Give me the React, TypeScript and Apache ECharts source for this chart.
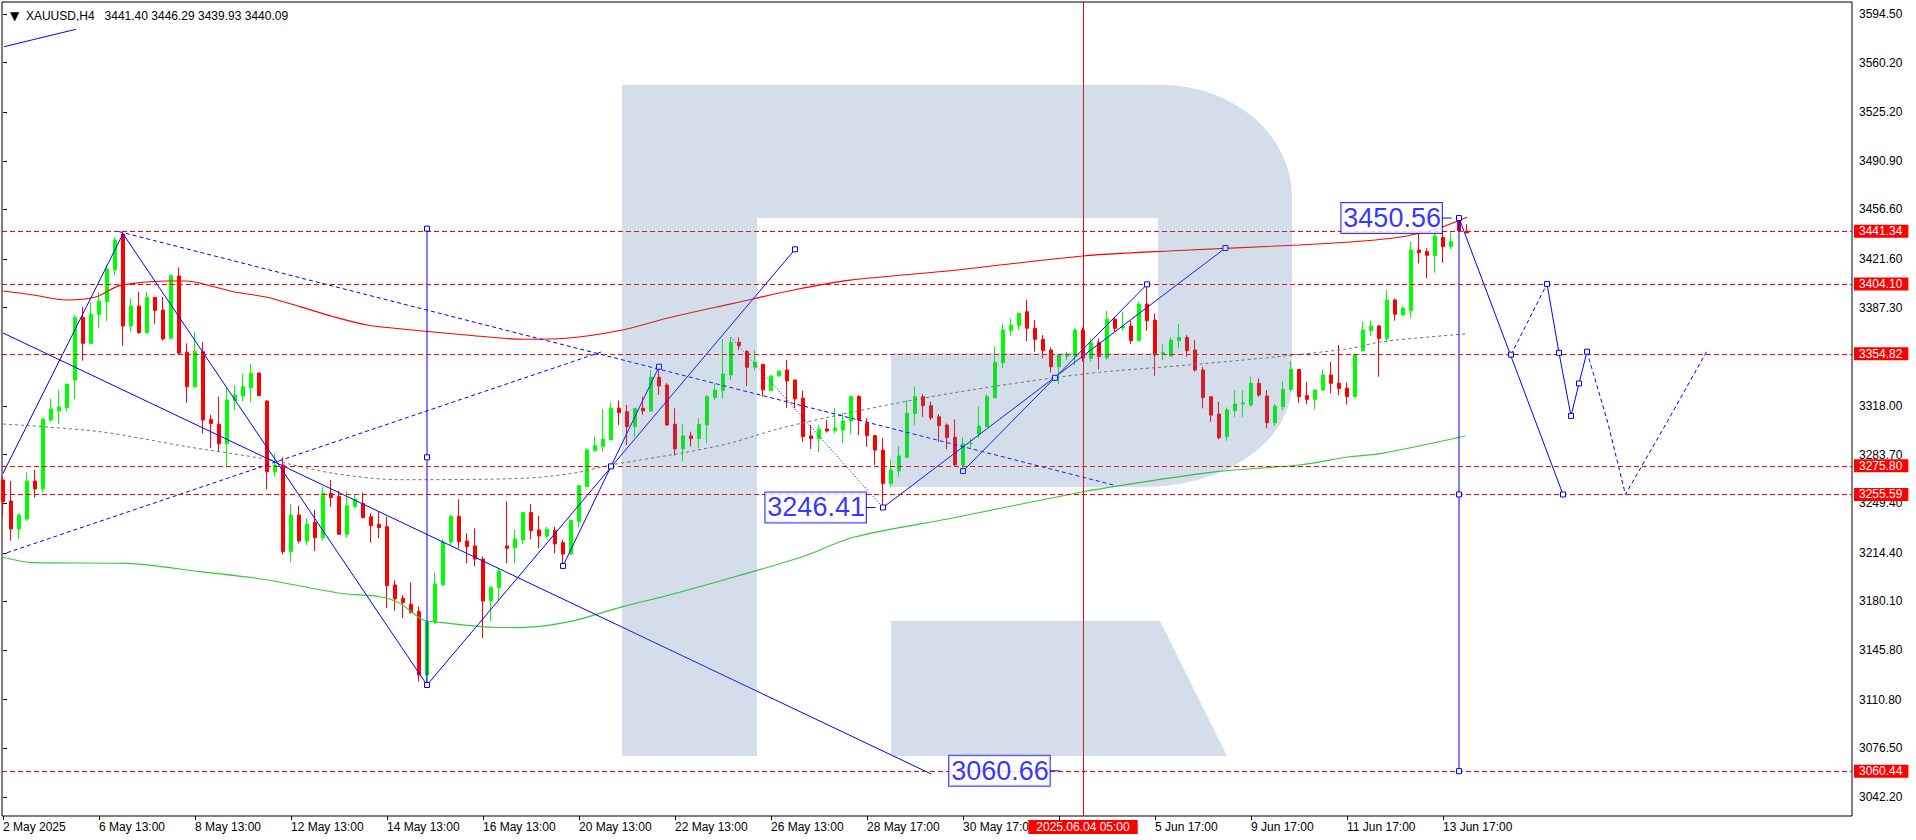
import React, { useEffect, useRef } from "react";
import * as echarts from "echarts";

const symbolName = "XAUUSD,H4";

// x ticks (bar index) and their labels
const xTickIndex = [0, 12, 24, 36, 48, 60, 72, 84, 96, 108, 120, 132, 144, 156, 168, 180];
const xTickText = [
  "2 May 2025", "6 May 13:00", "8 May 13:00", "12 May 13:00", "14 May 13:00", "16 May 13:00",
  "20 May 13:00", "22 May 13:00", "26 May 13:00", "28 May 17:00", "30 May 17:00", "3 Jun 17:00",
  "5 Jun 17:00", "9 Jun 17:00", "11 Jun 17:00", "13 Jun 17:00",
];
const xHiddenLabelIndex = [132];

// y ticks (price)
const yTickValues = [
  3042.2, 3076.5, 3110.8, 3145.8, 3180.1, 3214.4, 3249.4, 3283.7, 3318.0,
  3387.3, 3421.6, 3456.6, 3490.9, 3525.2, 3560.2, 3594.5,
];
const yMin = 3028.8;
const yMax = 3602.96;

// H4 candles: open, high, low, close
const ohlc: number[][] = [
  [3265.8, 3268.0, 3239.9, 3250.5], [3251.0, 3265.1, 3223.0, 3231.3], [3231.3, 3242.3, 3224.2, 3241.1],
  [3238.3, 3271.2, 3237.0, 3265.1], [3265.1, 3272.9, 3253.4, 3259.5], [3259.5, 3309.8, 3256.9, 3308.8],
  [3308.1, 3323.0, 3307.0, 3315.9], [3314.5, 3329.3, 3305.3, 3317.3], [3316.8, 3333.5, 3314.0, 3333.5],
  [3336.3, 3382.2, 3323.0, 3380.3], [3380.3, 3387.6, 3350.0, 3362.2], [3362.2, 3391.1, 3362.0, 3382.7],
  [3382.7, 3398.2, 3372.8, 3392.1], [3391.6, 3417.5, 3378.0, 3414.6], [3414.0, 3437.0, 3410.4, 3435.1],
  [3439.3, 3439.8, 3360.6, 3374.4], [3374.4, 3393.9, 3370.4, 3388.5], [3388.5, 3398.6, 3369.0, 3369.7],
  [3369.7, 3398.6, 3369.0, 3394.7], [3394.7, 3394.7, 3376.0, 3385.3], [3385.7, 3395.0, 3364.1, 3365.3],
  [3365.7, 3410.9, 3365.3, 3409.9], [3409.7, 3415.6, 3355.0, 3355.2], [3355.9, 3362.2, 3320.4, 3331.6],
  [3331.6, 3370.4, 3331.0, 3356.3], [3356.3, 3362.9, 3298.7, 3308.1], [3308.6, 3311.7, 3288.2, 3305.6],
  [3305.1, 3324.6, 3285.8, 3291.4], [3291.4, 3330.5, 3274.8, 3322.2], [3321.8, 3332.4, 3315.2, 3325.8],
  [3325.1, 3340.6, 3321.1, 3331.6], [3330.9, 3347.6, 3320.4, 3341.1], [3341.3, 3341.3, 3325.0, 3325.3],
  [3321.5, 3322.2, 3259.2, 3271.7], [3271.7, 3284.6, 3268.2, 3276.4], [3276.4, 3281.8, 3213.4, 3215.3],
  [3215.3, 3248.7, 3207.5, 3241.1], [3241.1, 3247.7, 3221.1, 3222.8], [3222.8, 3238.8, 3220.0, 3234.8],
  [3235.9, 3244.7, 3215.7, 3225.1], [3225.1, 3261.1, 3223.0, 3256.4], [3256.4, 3265.8, 3247.0, 3253.4],
  [3254.1, 3258.3, 3227.0, 3227.5], [3227.5, 3258.1, 3225.1, 3247.7], [3247.2, 3255.2, 3245.8, 3252.2],
  [3249.3, 3256.9, 3239.0, 3239.2], [3239.9, 3242.3, 3221.6, 3233.6], [3234.5, 3243.5, 3224.7, 3232.2],
  [3232.9, 3239.9, 3175.3, 3191.3], [3191.8, 3195.0, 3173.7, 3181.9], [3182.4, 3184.7, 3168.3, 3179.3],
  [3178.1, 3193.4, 3171.8, 3172.2], [3173.0, 3176.5, 3123.6, 3128.3], [3128.3, 3166.0, 3121.2, 3165.9],
  [3165.4, 3200.5, 3164.3, 3192.5], [3192.0, 3224.0, 3191.0, 3222.0], [3222.0, 3241.5, 3220.0, 3240.0],
  [3240.0, 3252.2, 3217.6, 3222.3], [3222.8, 3228.2, 3207.1, 3218.8], [3219.3, 3231.7, 3205.0, 3210.0],
  [3210.0, 3211.8, 3154.2, 3180.5], [3180.5, 3191.1, 3166.0, 3190.1], [3190.0, 3203.0, 3181.2, 3201.7],
  [3219.3, 3250.6, 3207.1, 3217.6], [3218.0, 3230.6, 3207.0, 3224.2], [3223.5, 3242.8, 3220.5, 3242.8],
  [3242.8, 3248.9, 3224.0, 3230.1], [3230.6, 3240.4, 3217.6, 3226.3], [3226.3, 3232.9, 3224.7, 3231.0],
  [3230.1, 3232.9, 3214.1, 3220.7], [3221.6, 3223.5, 3207.0, 3213.6], [3213.6, 3237.2, 3212.9, 3237.2],
  [3236.5, 3261.8, 3232.2, 3261.8], [3261.1, 3288.2, 3261.1, 3287.0], [3286.5, 3296.4, 3285.8, 3290.0],
  [3289.3, 3315.7, 3285.8, 3294.5], [3294.1, 3320.4, 3294.0, 3316.4], [3316.4, 3321.8, 3304.6, 3313.3],
  [3314.0, 3318.7, 3290.5, 3303.5], [3303.5, 3316.4, 3296.4, 3316.4], [3316.4, 3324.6, 3311.7, 3314.5],
  [3314.5, 3343.4, 3314.5, 3338.3], [3338.3, 3344.6, 3325.8, 3332.1], [3332.8, 3334.0, 3304.0, 3304.6],
  [3305.1, 3316.4, 3283.0, 3287.7], [3287.7, 3305.3, 3279.3, 3296.9], [3296.9, 3299.9, 3289.4, 3295.0],
  [3295.0, 3309.3, 3288.2, 3305.1], [3304.6, 3325.8, 3291.7, 3324.6], [3323.9, 3334.0, 3322.0, 3329.3],
  [3328.9, 3365.3, 3323.0, 3340.6], [3339.9, 3366.5, 3336.4, 3362.9], [3362.9, 3366.5, 3357.5, 3360.6],
  [3356.4, 3357.5, 3332.1, 3345.3], [3345.3, 3357.0, 3343.0, 3348.8], [3347.4, 3347.4, 3324.6, 3329.3],
  [3328.9, 3339.9, 3328.9, 3339.2], [3339.2, 3343.0, 3338.5, 3342.7], [3343.4, 3350.5, 3316.4, 3335.7],
  [3336.4, 3336.4, 3316.4, 3323.0], [3323.5, 3328.9, 3292.9, 3296.4], [3296.9, 3304.6, 3287.7, 3295.0],
  [3295.0, 3304.6, 3285.4, 3301.6], [3301.8, 3308.1, 3299.2, 3300.4], [3300.6, 3316.4, 3298.7, 3302.5],
  [3301.1, 3312.9, 3291.7, 3307.4], [3307.4, 3325.7, 3298.0, 3324.6], [3324.6, 3325.7, 3297.5, 3308.1],
  [3305.7, 3309.3, 3289.3, 3297.1], [3297.1, 3297.1, 3276.4, 3286.9], [3286.9, 3295.2, 3246.41, 3263.4],
  [3263.4, 3280.4, 3261.1, 3272.8], [3272.3, 3289.8, 3268.1, 3282.7], [3281.8, 3322.2, 3281.1, 3312.8],
  [3312.8, 3331.6, 3304.6, 3324.6], [3324.6, 3326.4, 3310.4, 3318.2], [3318.2, 3321.0, 3308.1, 3309.7],
  [3310.4, 3312.3, 3292.8, 3304.1], [3304.6, 3305.7, 3287.4, 3295.6], [3295.9, 3308.6, 3275.2, 3276.4],
  [3276.4, 3295.9, 3271.7, 3291.2], [3291.3, 3295.2, 3288.0, 3291.6], [3298.2, 3317.5, 3295.2, 3303.9],
  [3303.4, 3326.4, 3303.4, 3324.6], [3323.8, 3359.8, 3323.8, 3348.8], [3348.5, 3376.3, 3344.5, 3371.6],
  [3371.1, 3379.8, 3367.6, 3375.1], [3374.6, 3383.8, 3371.6, 3383.3], [3384.5, 3392.7, 3363.8, 3372.8],
  [3372.8, 3378.6, 3356.3, 3365.0], [3365.0, 3368.0, 3351.6, 3357.0], [3357.5, 3359.3, 3341.5, 3345.7],
  [3345.7, 3353.9, 3333.3, 3353.9], [3353.2, 3356.3, 3350.4, 3354.6], [3353.2, 3372.8, 3346.9, 3371.6],
  [3371.6, 3373.5, 3349.2, 3351.6], [3351.6, 3365.7, 3349.2, 3362.6], [3362.6, 3365.7, 3343.8, 3352.8],
  [3352.1, 3385.0, 3350.4, 3379.1], [3379.1, 3381.0, 3370.4, 3372.8], [3373.0, 3384.5, 3371.1, 3374.4],
  [3374.4, 3378.2, 3361.7, 3364.1], [3364.1, 3391.6, 3364.1, 3389.9], [3389.9, 3404.5, 3371.1, 3378.2],
  [3378.6, 3383.3, 3339.1, 3353.9], [3354.6, 3361.7, 3350.4, 3355.6], [3353.2, 3366.4, 3352.8, 3364.5],
  [3364.1, 3375.8, 3358.6, 3366.4], [3366.4, 3368.0, 3352.8, 3357.0], [3357.5, 3364.5, 3342.2, 3343.4],
  [3343.4, 3345.7, 3316.3, 3323.9], [3324.6, 3324.6, 3306.9, 3311.6], [3312.3, 3321.0, 3294.5, 3295.6],
  [3296.3, 3317.0, 3293.5, 3315.2], [3314.7, 3329.3, 3310.4, 3319.4], [3319.4, 3329.3, 3310.4, 3320.3],
  [3318.7, 3338.7, 3317.5, 3334.0], [3334.0, 3337.5, 3324.6, 3325.7], [3325.0, 3329.3, 3302.2, 3306.2],
  [3306.2, 3319.4, 3303.9, 3318.0], [3317.5, 3335.6, 3315.2, 3329.7], [3329.7, 3349.7, 3328.1, 3343.8],
  [3343.8, 3343.8, 3320.3, 3324.6], [3325.3, 3334.7, 3319.4, 3322.7], [3322.7, 3329.3, 3315.6, 3329.3],
  [3329.3, 3343.8, 3328.6, 3339.8], [3339.8, 3349.2, 3326.9, 3334.0], [3334.0, 3361.0, 3325.7, 3330.4],
  [3330.5, 3334.5, 3319.0, 3324.6], [3324.6, 3355.2, 3324.1, 3354.0], [3357.0, 3377.5, 3356.3, 3371.6],
  [3371.1, 3378.2, 3367.4, 3374.4], [3374.4, 3375.1, 3338.7, 3365.7], [3365.7, 3399.8, 3362.7, 3392.8],
  [3392.8, 3393.9, 3378.2, 3382.7], [3382.2, 3388.5, 3381.5, 3386.9], [3385.2, 3433.9, 3379.8, 3428.0],
  [3428.0, 3441.0, 3418.6, 3426.2], [3426.9, 3429.2, 3408.1, 3424.3], [3424.0, 3449.2, 3412.0, 3437.9],
  [3437.0, 3440.5, 3419.1, 3430.4], [3430.4, 3440.5, 3428.7, 3433.9], [3449.2, 3450.56, 3441.7, 3441.7],
  [3441.40, 3446.29, 3439.93, 3440.09],
];

// horizontal levels (red dashed) and cursor line
const levelPrices = [3441.34, 3404.10, 3354.82, 3275.80, 3255.59, 3060.44];
const cursorBar = 135;
const cursorLabel = "2025.06.04 05:00";

// moving averages [bar, price]
const maRed = [
  [0, 3399.1], [3.8, 3396.3], [7.9, 3392.8], [11.7, 3395.1], [14.2, 3402.2], [16.3, 3404.5],
  [20.5, 3406.2], [22.9, 3406.2], [25.5, 3403.4], [28.8, 3398.6], [33, 3394.7], [37.1, 3388.1],
  [41.3, 3381.0], [45.5, 3375.1], [49.6, 3372.5], [57.9, 3368.1], [65, 3365.1], [70.4, 3365.8],
  [77.1, 3371.2], [83, 3379.9], [91.3, 3390.4], [99, 3400.0], [105.9, 3406.8], [118.4, 3413.4],
  [135, 3423.8], [146.3, 3427.5], [162, 3431.6], [170.4, 3434.6], [174.5, 3437.0], [177, 3439.8],
  [180, 3444.5], [183, 3451.1],
];
const maGreen = [
  [0, 3211.3], [3.8, 3207.5], [15.5, 3207.0], [24.6, 3201.2], [32.5, 3195.8], [42.1, 3185.9],
  [47.1, 3183.5], [49.6, 3178.8], [52.5, 3167.1], [54.6, 3165.4], [61.2, 3161.9], [64.5, 3161.7],
  [70.8, 3165.9], [77.5, 3176.5], [83.3, 3184.7], [91.6, 3197.7], [100, 3211.8], [106.3, 3225.4],
  [118.4, 3238.7], [135, 3257.5], [139.2, 3261.5], [151.7, 3271.7], [162, 3276.4], [168.4, 3282.2],
  [172.4, 3284.6], [182.8, 3296.8],
];
const maGray = [
  [0, 3305.3], [12.1, 3299.9], [23, 3289.3], [33, 3280.4], [41.3, 3270.5], [49.6, 3266.0],
  [65, 3267.0], [71.2, 3270.5], [76, 3276.4], [85, 3285.0], [91, 3292.0], [97, 3302.0],
  [106, 3313.5], [118.4, 3326.9], [135, 3340.5], [149.6, 3347.6], [160, 3353.2], [168.4, 3358.6],
  [172.4, 3363.4], [182.8, 3368.8],
];

// trend lines [bar, price]
const solidLines = [
  [[0.125, 3571.4], [9.1, 3583.7]],
  [[0, 3270.5], [15, 3439.5]],
  [[15, 3439.5], [53, 3121.2]],
  [[0, 3369.5], [116, 3058.5]],
  [[53, 3121.2], [99, 3428.5]],
  [[70, 3205.2], [82, 3345.7]],
  [[110, 3246.41], [152.8, 3429.4]],
  [[120, 3272.1], [143, 3403.8]],
  [[53, 3443.1], [53, 3121.2]],
  [[182, 3450.56], [182, 3060.44]],
  [[182, 3450.56], [195, 3255.59]],
  [[193, 3404.1], [194.5, 3355.5], [196, 3311.0], [197, 3333.9], [198, 3356.3]],
];
const dashedLines = [
  [[14.5, 3441.0], [139, 3262.0]],
  [[0.5, 3214.5], [75, 3356.5]],
  [[188.5, 3354.2], [193, 3404.1]],
  [[198, 3356.3], [200.6, 3306.3], [202.8, 3255.59], [208.1, 3307.6], [213, 3356.8]],
];
const dottedLines = [
  [[91, 3366.4], [110, 3246.41]],
];
const pivotMarkers = [
  [53, 3443.1], [53, 3281.8], [53, 3121.2], [70, 3205.2], [76, 3275.4], [82, 3345.7], [99, 3428.5],
  [110, 3246.41], [120, 3272.1], [131.5, 3337.9], [143, 3403.8], [152.8, 3429.4],
  [182, 3450.56], [182, 3255.59], [182, 3060.44], [188.5, 3354.2], [193, 3404.1], [194.5, 3355.5],
  [195, 3255.59], [196, 3311.0], [197, 3333.9], [198, 3356.3],
];
const priceTags = [
  { bar: 182, price: 3450.56, text: "3450.56", gap: 17, pivot: true },
  { bar: 110, price: 3246.41, text: "3246.41", gap: 17, pivot: true },
  { bar: 132.1, price: 3060.66, text: "3060.66", gap: 10, pivot: false },
];

const LOGO_PATH =
  "M622 85 L1162 85 A130 112 0 0 1 1292 197 L1292 383 A147 104 0 0 1 1145 487 L891 487 L891 353 " +
  "L1158 353 L1158 218 L757 218 L757 756 L622 756 Z M891 621 L1160 621 L1227 756 L891 756 Z";

let logoReady = false;
function ensureLogo() {
  if (logoReady) return;
  echarts.graphic.registerShape("rfLogo", echarts.graphic.extendPath(LOGO_PATH, {}) as any);
  logoReady = true;
}

const FONT = "'Liberation Sans', Arial, sans-serif";
const BLUE = "#0000ff";
const BAR_PX = 8;

function buildOption() {
  const candleData = ohlc.map((d, k) => [k, d[0], d[3], d[2], d[1]]);
  const last = ohlc[ohlc.length - 1];
  const header = `${symbolName}   ${last.map((v) => v.toFixed(2)).join(" ")}`;
  const labelMap: Record<number, string> = {};
  xTickIndex.forEach((k, i) => (labelMap[k] = xTickText[i]));
  const xLabelValues = xTickIndex.filter((k) => xHiddenLabelIndex.indexOf(k) < 0);

  const series: any[] = [];
  series.push({
    type: "candlestick",
    data: candleData,
    barWidth: 4,
    z: 2,
    silent: true,
    itemStyle: {
      color: "#00ff00",
      color0: "#ff0000",
      borderColor: "#00ff00",
      borderColor0: "#ff0000",
      borderWidth: 1,
    },
  });
  const ma = (data: number[][], color: string, type: any, width: number) => ({
    type: "line",
    data,
    smooth: 0.3,
    symbol: "none",
    silent: true,
    z: 3,
    lineStyle: { color, width, type },
  });
  series.push(ma(maRed, "#ff0000", "solid", 1.1));
  series.push(ma(maGreen, "#32cd32", "solid", 1.1));
  series.push(ma(maGray, "#707070", [3, 3], 1));

  series.push({
    type: "line",
    data: [],
    silent: true,
    z: 3,
    markLine: {
      silent: true,
      symbol: ["none", "none"],
      lineStyle: { color: "#ff0000", type: [5, 3], width: 1 },
      label: {
        show: true,
        position: "end",
        distance: 2,
        formatter: (p: any) => Number(p.value).toFixed(2),
        backgroundColor: "#ff0000",
        color: "#ffffff",
        fontFamily: FONT,
        fontSize: 12,
        lineHeight: 12,
        padding: [1, 6, 0, 5],
      },
      data: levelPrices.map((v) => ({ yAxis: v })),
    },
  });
  series.push({
    type: "line",
    data: [],
    silent: true,
    z: 3,
    markLine: {
      silent: true,
      symbol: ["none", "none"],
      lineStyle: { color: "#ff0000", type: "solid", width: 1 },
      label: {
        show: true,
        position: "start",
        distance: 4,
        formatter: cursorLabel,
        backgroundColor: "#ff0000",
        color: "#ffffff",
        fontFamily: FONT,
        fontSize: 12,
        lineHeight: 12,
        padding: [1, 8, 1, 8],
      },
      data: [{ xAxis: cursorBar }],
    },
  });

  const trend = (data: number[][], type: any) => ({
    type: "line",
    data,
    symbol: "none",
    silent: true,
    z: 4,
    lineStyle: { color: BLUE, width: 1, type },
  });
  solidLines.forEach((seg) => series.push(trend(seg, "solid")));
  dashedLines.forEach((seg) => series.push(trend(seg, [4, 3])));
  dottedLines.forEach((seg) => series.push(trend(seg, [1, 2])));
  priceTags.forEach((t) => {
    const from = t.bar - t.gap / BAR_PX;
    const to = t.pivot ? t.bar - 7.5 / BAR_PX : t.bar;
    series.push(trend([[from, t.price], [to, t.price]], "solid"));
  });

  series.push({
    type: "scatter",
    data: pivotMarkers,
    symbol: "rect",
    symbolSize: 5,
    silent: true,
    z: 6,
    itemStyle: { color: "#ffffff", borderColor: BLUE, borderWidth: 1, opacity: 1 },
  });

  series.push({
    type: "scatter",
    symbol: "circle",
    symbolSize: 0.1,
    silent: true,
    z: 7,
    itemStyle: { color: "rgba(0,0,0,0)" },
    label: {
      show: true,
      formatter: "{b}",
      position: "left",
      color: BLUE,
      fontFamily: FONT,
      fontSize: 27,
      lineHeight: 29,
      backgroundColor: "#ffffff",
      borderColor: BLUE,
      borderWidth: 1,
      padding: [1, 1, 0, 2],
    },
    data: priceTags.map((t) => ({
      name: t.text,
      value: [t.bar, t.price],
      label: { distance: t.gap },
    })),
  });

  return {
    animation: false,
    backgroundColor: "#ffffff",
    title: {
      text: `{tri|▼}  ${header}`,
      left: 5,
      top: 5,
      textStyle: {
        fontSize: 12,
        fontWeight: "normal",
        color: "#000000",
        fontFamily: FONT,
        rich: { tri: { fontSize: 12, fontFamily: "'DejaVu Sans'", color: "#000000" } },
      },
    },
    grid: {
      left: 2,
      right: 64,
      top: 2,
      bottom: 24,
      show: true,
      borderColor: "#000000",
      borderWidth: 1,
      backgroundColor: "rgba(0,0,0,0)",
      containLabel: false,
      outerBoundsMode: "none",
    },
    xAxis: {
      type: "value",
      min: -0.125,
      max: 231.125,
      axisLine: { show: false },
      splitLine: { show: false },
      axisTick: {
        show: true,
        length: 4,
        customValues: xTickIndex,
        lineStyle: { color: "#000000" },
      },
      axisLabel: {
        show: true,
        customValues: xLabelValues,
        formatter: (v: number) => labelMap[Math.round(v)] ?? "",
        align: "left",
        margin: 5,
        color: "#000000",
        fontFamily: FONT,
        fontSize: 12,
      },
    },
    yAxis: {
      type: "value",
      position: "right",
      min: yMin,
      max: yMax,
      scale: true,
      axisLine: { show: false },
      splitLine: { show: false },
      axisTick: {
        show: true,
        length: 4,
        customValues: yTickValues,
        lineStyle: { color: "#000000" },
      },
      axisLabel: {
        show: true,
        customValues: yTickValues,
        formatter: (v: number) => v.toFixed(2),
        margin: 7,
        color: "#000000",
        fontFamily: FONT,
        fontSize: 12,
      },
    },
    graphic: [
      {
        type: "rfLogo",
        x: 0,
        y: 0,
        shape: {},
        silent: true,
        z: 100,
        style: { fill: "rgba(82,122,170,0.25)" },
      },
    ],
    series,
  };
}

export default function App() {
  const ref = useRef<HTMLDivElement>(null);
  useEffect(() => {
    if (!ref.current) return;
    ensureLogo();
    const chart = echarts.init(ref.current, null, { renderer: "svg" });
    chart.setOption(buildOption() as any);
    return () => chart.dispose();
  }, []);
  return (
    <div
      ref={ref}
      style={{ position: "fixed", left: 0, top: 0, width: 1916, height: 840, background: "#fff" }}
    />
  );
}
